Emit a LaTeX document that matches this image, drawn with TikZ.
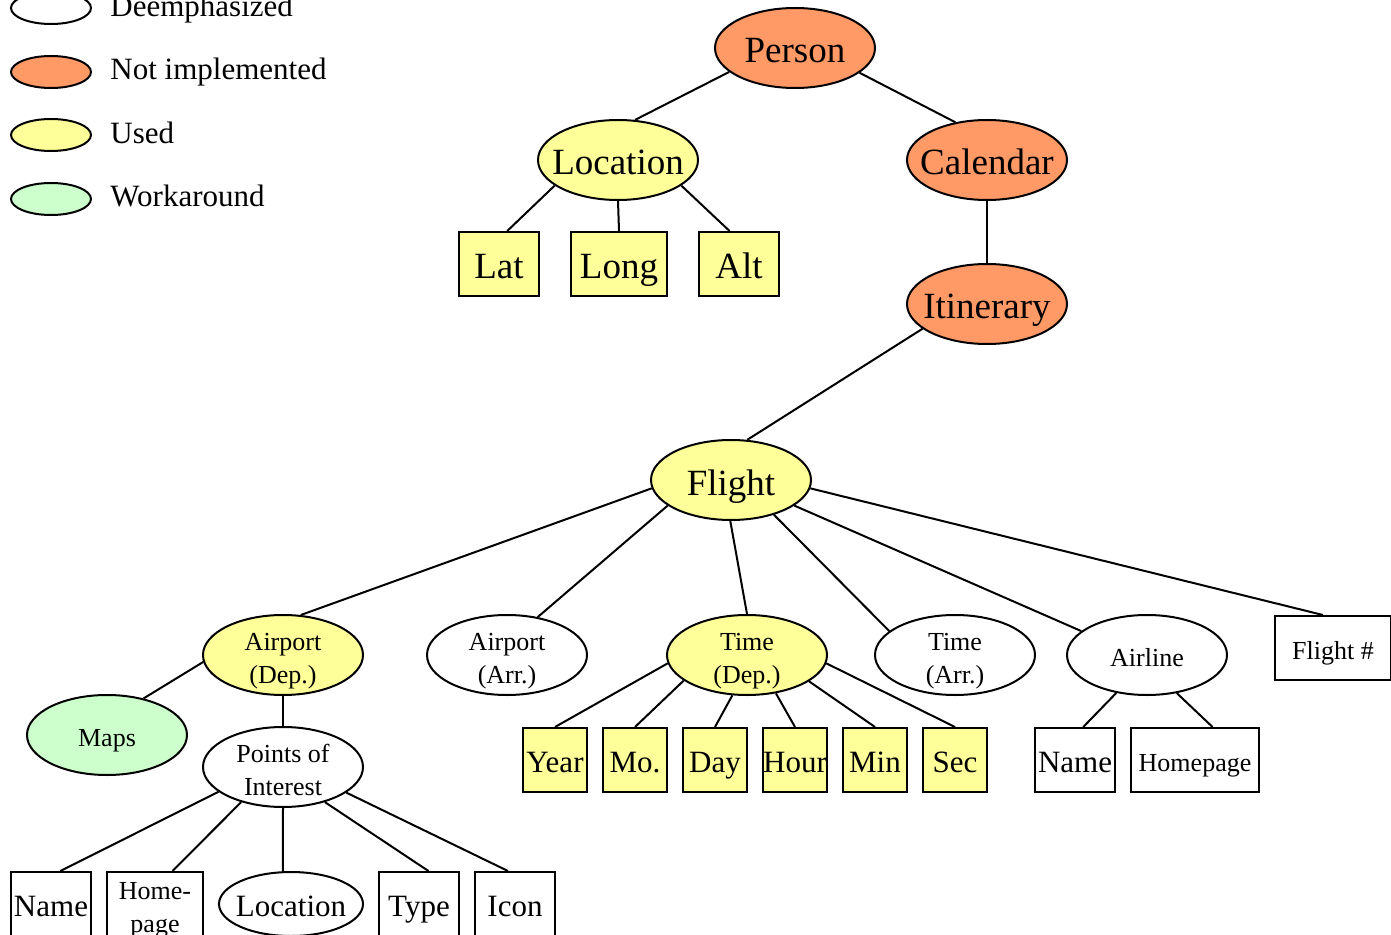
\documentclass[tikz,border=0pt]{standalone}
\usepackage{fontspec}
\setmainfont{Liberation Serif}
\usetikzlibrary{shapes.geometric}
\definecolor{notimplcolor}{RGB}{255,153,102}
\definecolor{usedcolor}{RGB}{255,255,153}
\definecolor{workcolor}{RGB}{204,255,204}

\begin{document}
\begin{tikzpicture}[
	x=0.5pt, y=-0.5pt,
	ent/.style={
		ellipse,
		draw,
		line width=1pt,
		inner xsep=-12pt,
		inner ysep=-3pt,
		minimum width=80pt,
		minimum height=40pt,
		align=center},
	deemph/.style={ent, fill=white},
	notimpl/.style={ent, fill=notimplcolor},
	used/.style={ent, fill=usedcolor},
	workaround/.style={ent, fill=workcolor},
	key/.style={
		ent,
		minimum width=40pt,
		minimum height=16pt},
	field/.style={
		rectangle,
		draw,
		line width=1pt,
		inner sep=0pt,
		minimum width=40pt,
		minimum height=32pt,
		align=center},
	big/.style={font=\fontsize{18.5}{20}\selectfont, text height=15pt, text depth=0pt},
	mid/.style={font=\fontsize{15.5}{17}\selectfont, text height=12pt, text depth=0pt},
	small/.style={font=\fontsize{13}{16.5}\selectfont, text height=11pt, text depth=0pt},
	twoline/.style={font=\fontsize{13}{16.5}\selectfont, text height=28pt, text depth=0pt},
	line/.style={
	draw,
	line width=1pt}]
    \useasboundingbox (0,0) rectangle (1391,935);

    % Legend
    \node [key, fill=white] (keydeemph) at (51,8) {};
    \node [key, fill=notimplcolor] (keynotimpl) at (51,72) {};
    \node [key, fill=usedcolor] (keyused) at (51,135) {};
    \node [key, fill=workcolor] (keywork) at (51,199) {};
    \node [mid, anchor=base west, inner sep=0pt] (txtdeemph) at (110,17) {Deemphasized};
    \node [mid, anchor=base west, inner sep=0pt] (txtnotimpl) at (110,80) {Not implemented};
    \node [mid, anchor=base west, inner sep=0pt] (txtused) at (110,144) {Used};
    \node [mid, anchor=base west, inner sep=0pt] (txtwork) at (110,207) {Workaround};

    % Place nodes
    \node [notimpl, big] (person) at (795,48) {Person};
    \node [used, big] (location) at (618,160) {Location};
    \node [notimpl, big] (calendar) at (987,160) {Calendar};
    \node [field, fill=usedcolor, big] (lat) at (499,264) {Lat};
    \node [field, fill=usedcolor, big, minimum width=48pt] (long) at (619,264) {Long};
    \node [field, fill=usedcolor, big] (alt) at (739,264) {Alt};
    \node [notimpl, big] (itinerary) at (987,304) {Itinerary};
    \node [used, big] (flight) at (731,480) {Flight};
    \node [used, twoline] (apdep) at (283,655) {Airport\\(Dep.)};
    \node [deemph, twoline] (aparr) at (507,655) {Airport\\(Arr.)};
    \node [used, twoline] (timedep) at (747,655) {Time\\(Dep.)};
    \node [deemph, twoline] (timearr) at (955,655) {Time\\(Arr.)};
    \node [deemph, small] (airline) at (1147,655) {Airline};
    \node [field, small, minimum width=58pt] (flightno) at (1333,648) {Flight \#};
    \node [workaround, small] (maps) at (107,735) {Maps};
    \node [deemph, twoline] (poi) at (283,767) {Points of\\Interest};
    \node [field, fill=usedcolor, mid, minimum width=32pt] (year) at (555,760) {Year};
    \node [field, fill=usedcolor, mid, minimum width=32pt] (month) at (635,760) {Mo.};
    \node [field, fill=usedcolor, mid, minimum width=32pt] (day) at (715,760) {Day};
    \node [field, fill=usedcolor, mid, minimum width=32pt] (hour) at (795,760) {Hour};
    \node [field, fill=usedcolor, mid, minimum width=32pt] (minute) at (875,760) {Min};
    \node [field, fill=usedcolor, mid, minimum width=32pt] (second) at (955,760) {Sec};
    \node [field, mid] (alname) at (1075,760) {Name};
    \node [field, small, minimum width=64pt] (alhome) at (1195,760) {Homepage};
    \node [field, mid] (poiname) at (51,904) {Name};
    \node [field, twoline, minimum width=48pt] (poihome) at (155,904) {Home-\\page};
    \node [deemph, mid, minimum width=72pt, minimum height=32pt] (poiloc) at (291,904) {Location};
    \node [field, mid] (poitype) at (419,904) {Type};
    \node [field, mid] (poiicon) at (515,904) {Icon};

    % Draw edges
    \path [line] (person.200) -- (location.67);
    \path [line] (person.339) -- (calendar.130);
    \path [line] (location.202) -- (lat.76);
    \path [line] (location.south) -- (long.north);
    \path [line] (location.338) -- (alt.106);
    \path [line] (calendar.south) -- (itinerary.north);
    \path [line] (itinerary.201) -- (flight.68);
    \path [line] (flight.186) -- (apdep.66);
    \path [line] (flight.202) -- (aparr.51);
    \path [line] (flight.269) -- (timedep.north);
    \path [line] (flight.321) -- (timearr.160);
    \path [line] (flight.338) -- (airline.160);
    \path [line] (flight.354) -- (flightno.107);
    \path [line] (apdep.185) -- (maps.45);
    \path [line] (apdep.south) -- (poi.north);
    \path [line] (poi.201) -- (poiname.74);
    \path [line] (poi.220) -- (poihome.62);
    \path [line] (poi.south) -- (poiloc.104);
    \path [line] (poi.320) -- (poitype.74);
    \path [line] (poi.338) -- (poiicon.102);
    \path [line] (timedep.186) -- (year.north);
    \path [line] (timedep.202) -- (month.north);
    \path [line] (timedep.250) -- (day.north);
    \path [line] (timedep.307) -- (hour.north);
    \path [line] (timedep.337) -- (minute.north);
    \path [line] (timedep.354) -- (second.north);
    \path [line] (airline.231) -- (alname.76);
    \path [line] (airline.308) -- (alhome.62);
\end{tikzpicture}
\end{document}
